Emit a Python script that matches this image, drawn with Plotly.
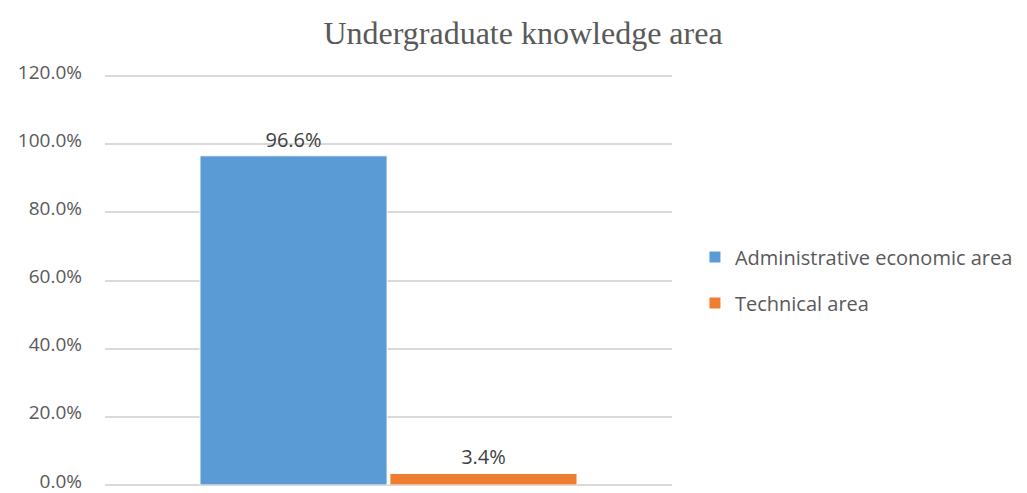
import plotly.graph_objects as go

title = "Undergraduate knowledge area"
categories = [""]
series_names = ["Administrative economic area", "Technical area"]
series_values = [[0.966], [0.034]]
colors = ["#5B9BD5", "#ED7D31"]
tick_vals = [0, 0.2, 0.4, 0.6, 0.8, 1.0, 1.2]

FONT = "Open Sans, Lato, sans-serif"

fig = go.Figure()
for i, (name, vals, col) in enumerate(zip(series_names, series_values, colors)):
    fig.add_trace(go.Bar(
        x=categories, y=vals, name=name, legendgroup=f"g{i}",
        marker=dict(color=col, line=dict(color="white", width=1)),
        texttemplate="%{y:.1%}", textposition="outside",
        textfont=dict(family=FONT, size=20, color="#404040"),
        cliponaxis=False,
    ))

fig.update_layout(
    width=1019, height=485,
    margin=dict(l=97, r=355, t=67, b=8, autoexpand=False),
    plot_bgcolor="white", paper_bgcolor="white",
    barmode="group", bargap=0.33, bargroupgap=0.015,
    title=dict(text=title, x=0.5054, xanchor="center", y=0.9485, yanchor="middle",
               font=dict(family="Liberation Serif, Times New Roman, serif", size=32, color="#595959")),
    font=dict(family=FONT, size=20, color="#595959"),
    legend=dict(x=1.0405, y=0.50, xanchor="left", yanchor="middle",
                font=dict(family=FONT, size=20, color="#595959"), tracegroupgap=17,
                itemwidth=30),
    showlegend=True,
)
fig.update_yaxes(range=[0, 1.203], tickvals=tick_vals, tickformat=".1%",
                 showgrid=True, gridcolor="#D9D9D9", gridwidth=1.5,
                 zeroline=True, zerolinecolor="#D9D9D9", zerolinewidth=1.5,
                 showline=False, ticks="", ticklabelstandoff=22, automargin=False,
                 ticklabeloverflow="allow", ticklabelshift=-4,
                 tickfont=dict(family=FONT, size=19, color="#595959"))
fig.update_xaxes(showticklabels=False, showgrid=False, zeroline=False, showline=False,
                 automargin=False)

fig.write_html("out.html")
